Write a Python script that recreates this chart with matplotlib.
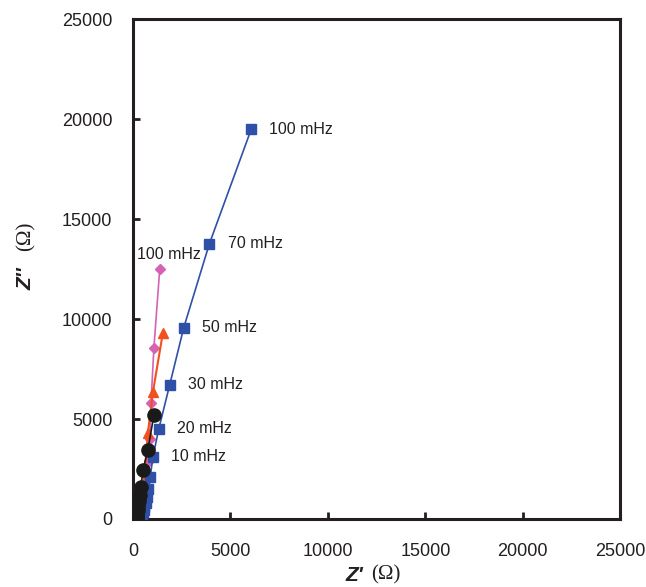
import matplotlib
matplotlib.use("Agg")
import matplotlib.pyplot as plt

plt.rcParams["font.family"] = ["Liberation Sans", "DejaVu Sans"]

# ─── Data (Z' , Z'' in ohm) ──────────────────────────────────────────────────
blue_x = [6060, 3920, 2600, 1880, 1320, 1020, 880, 780, 700, 640, 580, 540, 500, 470, 440, 420, 400]
blue_y = [19490, 13780, 9570, 6710, 4510, 3110, 2100, 1500, 1100, 800, 600, 450, 330, 240, 160, 100, 50]

pink_x = [1370, 1070, 920, 860, 800, 750, 700, 650, 600, 560, 520, 480, 450]
pink_y = [12530, 8570, 5810, 4000, 2900, 2000, 1400, 1000, 700, 450, 300, 180, 100]

orange_x = [1530, 1020, 760, 610, 520, 460, 420, 390, 370, 350]
orange_y = [9320, 6360, 4310, 2450, 1600, 1050, 700, 420, 230, 100]

black_x = [1070, 760, 510, 400, 330, 290, 260, 240, 225, 215, 205, 200]
black_y = [5210, 3460, 2450, 1600, 1200, 900, 650, 450, 300, 180, 90, 30]

blue_labels = ["100 mHz", "70 mHz", "50 mHz", "30 mHz", "20 mHz", "10 mHz"]
pink_label = "100 mHz"

# ─── Plot ────────────────────────────────────────────────────────────────────
fig = plt.figure(figsize=(6.46, 5.87), dpi=100)
ax = fig.add_axes([0.206, 0.116, 0.754, 0.851])

ax.plot(pink_x, pink_y, color="#D563B4", marker="D", markersize=5.5, linewidth=1.2, zorder=3)
ax.plot(orange_x, orange_y, color="#F2501F", marker="^", markersize=7.5, linewidth=1.5, zorder=4)
ax.plot(blue_x, blue_y, color="#2E50A6", marker="s", markersize=7, linewidth=1.2, zorder=5)
ax.plot(black_x, black_y, color="#1A1A1A", marker="o", markersize=9.5, linewidth=1.2, zorder=6)

for lab, x, y in zip(blue_labels, blue_x, blue_y):
    ax.annotate(lab, xy=(x, y), xytext=(13, 0), textcoords="offset points",
                ha="left", va="center", fontsize=11.5, color="#231F20")
ax.annotate(pink_label, xy=(pink_x[0], pink_y[0]), xytext=(-16.5, 10), textcoords="offset points",
            ha="left", va="center", fontsize=11.5, color="#231F20")

ax.set_xlim(0, 25000)
ax.set_ylim(0, 25000)
ax.set_xticks(range(0, 25001, 5000))
ax.set_yticks(range(0, 25001, 5000))
ax.tick_params(direction="in", length=5, width=2, labelsize=13, colors="#231F20")
ax.tick_params(axis="x", pad=17)
ax.tick_params(axis="y", pad=15)
for side in ["left", "bottom", "right", "top"]:
    ax.spines[side].set_linewidth(2.2)
    ax.spines[side].set_color("#231F20")

# axis labels: bold italic Z plus serif (Ω)
fig.text(0.562, 0.004, "Z'", fontsize=15, fontweight="bold", style="italic",
         ha="right", va="bottom", color="#231F20")
fig.text(0.575, 0.004, "(Ω)", fontsize=15, family="Liberation Serif",
         ha="left", va="bottom", color="#231F20")
fig.text(0.026, 0.545, "Z''", fontsize=15, fontweight="bold", style="italic",
         rotation=90, ha="left", va="top", color="#231F20")
fig.text(0.026, 0.572, "(Ω)", fontsize=15, family="Liberation Serif",
         rotation=90, ha="left", va="bottom", color="#231F20")

fig.savefig("out.png", dpi=100)
